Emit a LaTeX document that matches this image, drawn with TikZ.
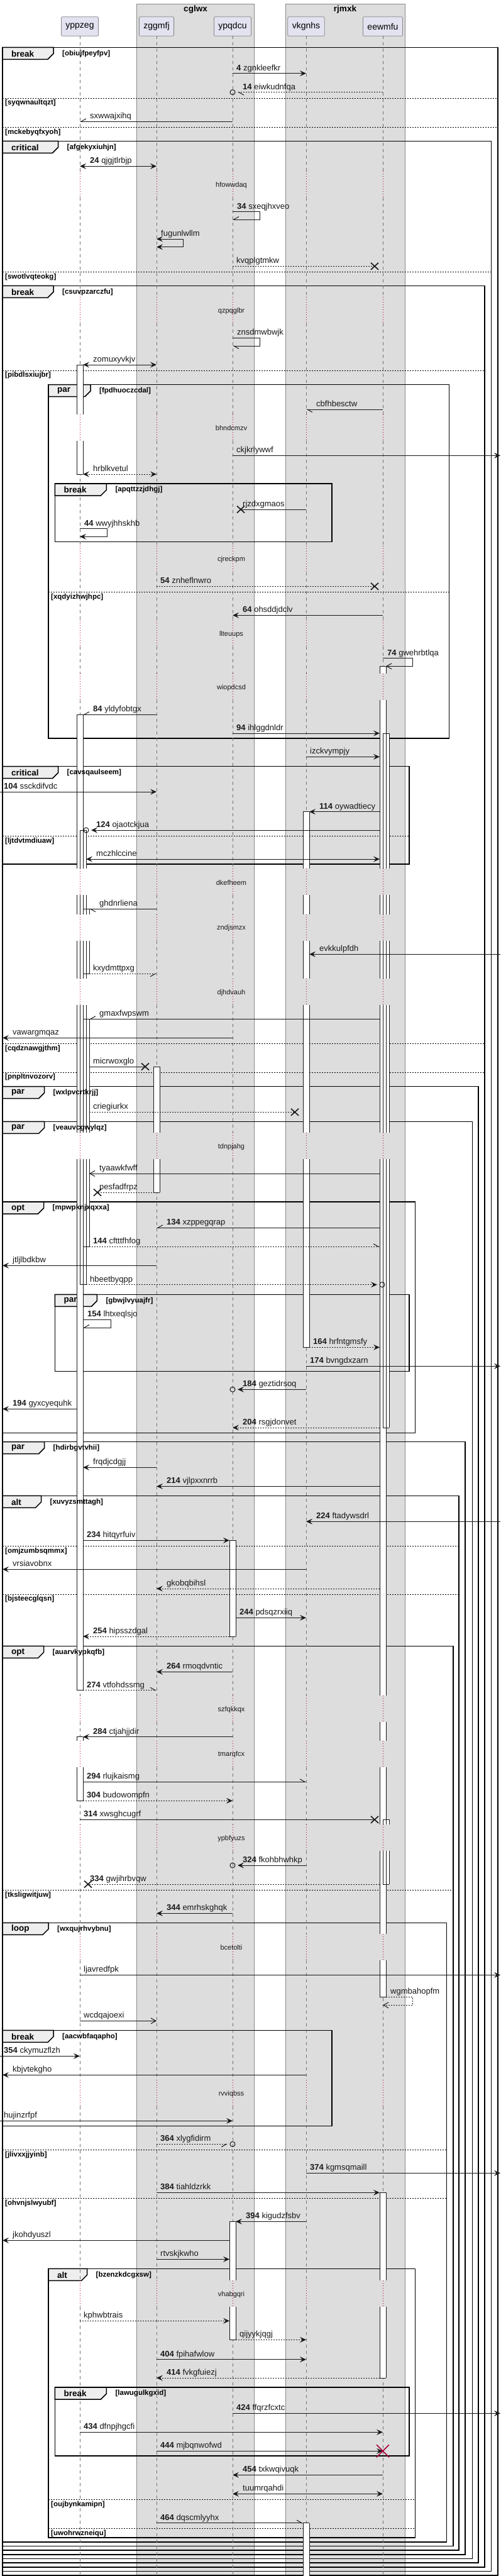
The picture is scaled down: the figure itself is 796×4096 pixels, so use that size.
\documentclass[tikz,border=0pt]{standalone}
\usepackage{fontspec}
\setmainfont{Liberation Sans}
\usetikzlibrary{arrows.meta,calc,positioning}

\definecolor{boxbg}{RGB}{221,221,221}
\definecolor{boxline}{RGB}{136,136,136}
\definecolor{partbg}{RGB}{226,226,240}
\definecolor{tabbg}{RGB}{238,238,238}
\definecolor{delayred}{RGB}{168,0,54}
\definecolor{ink}{RGB}{24,24,24}
\newcounter{lbl}

\tikzset{
  msgline/.style={draw=ink, line width=1pt},
  dashmsg/.style={dash pattern=on 2pt off 2pt},
  tipfill/.style={-{Stealth[length=10pt,width=9pt,inset=4pt]}},
  tipboth/.style={{Stealth[length=10pt,width=9pt,inset=4pt]}-{Stealth[length=10pt,width=9pt,inset=4pt]}},
  tipopen/.style={-{Straight Barb[length=8pt,width=9pt]}},
  tiphalfl/.style={-{Straight Barb[length=8pt,width=9pt,left]}},
  tiphalfr/.style={-{Straight Barb[length=8pt,width=9pt,right]}},
  msglab/.style={anchor=base west, inner sep=0pt, text=ink, font=\fontsize{13}{15}\selectfont},
  crossline/.style={draw=ink, line width=1.6pt},
  life/.style={draw=black!55, line width=0.7pt, dash pattern=on 5pt off 5pt},
  delayline/.style={draw=delayred, line width=0.7pt, dash pattern=on 1pt off 3pt},
  delaylab/.style={inner sep=0pt, text=ink, font=\fontsize{11}{13}\selectfont},
  actline/.style={draw=ink, line width=0.9pt},
  frameline/.style={draw=black, line width=1.5pt},
  tabshape/.style={fill=tabbg, draw=black, line width=1.5pt},
  kwlab/.style={anchor=west, inner sep=0pt, font=\fontsize{13.5}{15}\selectfont\bfseries},
  condlab/.style={anchor=west, inner sep=0pt, font=\fontsize{11.5}{13}\selectfont\bfseries},
  elseline/.style={draw=black, line width=0.8pt, dash pattern=on 2pt off 2pt},
  part/.style={draw=boxline, fill=partbg, rounded corners=2pt, line width=0.8pt,
    minimum height=30.6pt, inner xsep=7pt, font=\fontsize{14}{16}\selectfont},
  boxtitle/.style={inner sep=0pt, font=\fontsize{13.5}{15}\selectfont\bfseries},
}

\begin{document}
\begin{tikzpicture}[x=1pt, y=-1pt]
\newcommand{\seqmsg}[5][]{%
  \pgfmathsetmacro{\lx}{min(#2,#3)+ifthenelse(#3<#2,16,6)}%
  \draw[msgline,tipfill,#1] (#2,#4) -- (#3,#4);
  \stepcounter{lbl}\node[msglab] (m\thelbl) at (\lx,#4-4.5) {#5};}
\newcommand{\seqx}[5][]{%
  \pgfmathsetmacro{\lx}{min(#2,#3)+ifthenelse(#3<#2,16,6)}%
  \pgfmathsetmacro{\xc}{#3+ifthenelse(#3<#2,13,-13)}%
  \draw[msgline,#1] (#2,#4) -- (\xc,#4);
  \draw[crossline] (\xc-6,#4-5.5) -- (\xc+6,#4+5.5) (\xc-6,#4+5.5) -- (\xc+6,#4-5.5);
  \stepcounter{lbl}\node[msglab] (m\thelbl) at (\lx,#4-4.5) {#5};}
\newcommand{\seqo}[5][]{%
  \pgfmathsetmacro{\lx}{min(#2,#3)+ifthenelse(#3<#2,16,6)}%
  \pgfmathsetmacro{\xt}{#3+ifthenelse(#3<#2,8,-8)}%
  \draw[msgline,tipfill,#1] (#2,#4) -- (\xt,#4);
  \draw[msgline] (#3,#4) circle[radius=4];
  \stepcounter{lbl}\node[msglab] (m\thelbl) at (\lx,#4-4.5) {#5};}
\newcommand{\seqself}[7][]{%
  \draw[msgline,tipfill,#1] (#2,#5) -- (#3,#5) -- (#3,#6) -- (#4,#6);
  \stepcounter{lbl}\node[msglab] (m\thelbl) at (#2+7,#5-4.5) {#7};}
\newcommand{\grp}[7]{%
  \draw[frameline] (#1,#2) rectangle (#3,#4);
  \filldraw[tabshape] (#1,#2) -- ++(#5,0) -- ++(0,10) -- ++(-9,9) -- (#1,#2+19) -- cycle;}
\newcommand{\elsebar}[4]{\draw[elseline] (#1,#3) -- (#2,#3);}
\def\delays{294.3,494.3,680.7,890,1008.3,1093.3,1403.3,1475.7,1578.3,1823.3,2718.3,2790,2923.3,3096.7,3329.3,3648.3}

\useasboundingbox (0,0) rectangle (796,4096);
\fill[white] (0,0) rectangle (796,4096);

% boxes and participants
\filldraw[fill=boxbg, draw=boxline, line width=0.6pt] (217.5,6) rectangle (404.6,4100);
\filldraw[fill=boxbg, draw=boxline, line width=0.6pt] (454,6) rectangle (644,4100);
\node[boxtitle] (cglwx) at (311,15) {cglwx};
\node[boxtitle] (rjmxk) at (549,15) {rjmxk};
\node[part] (yppzeg) at (127,42) {yppzeg};
\node[part] (zggmfj) at (249,42) {zggmfj};
\node[part] (ypqdcu) at (370,42) {ypqdcu};
\node[part] (vkgnhs) at (487,42) {vkgnhs};
\node[part] (eewmfu) at (609,42) {eewmfu};

% groups
\newcommand{\grouplist}{%
\grp{4}{75.3}{792}{4095}{81}{break}{obiujfpeyfpv}
\elsebar{4}{792}{156}{syqwnaultqzt}
\elsebar{4}{792}{202.3}{mckebyqfxyoh}
\grp{4}{224.3}{781.5}{4088.3}{88.5}{critical}{afgekyxiuhjn}
\elsebar{4}{781.5}{432.3}{swotlvqteokg}
\grp{4}{454.3}{771}{4081.7}{81}{break}{csuvpzarczfu}
\elsebar{4}{771}{589}{pibdlsxiujbr}
\grp{77}{611.7}{714.6}{1174}{67}{par}{fpdhuoczcdal}
\grp{87.4}{769}{528}{861.7}{82}{break}{apqttzzjdhgj}
\elsebar{77}{714.6}{941.7}{xqdyizhwjhpc}
\grp{4}{1218.7}{651}{1374}{88.5}{critical}{cavsqaulseem}
\elsebar{4}{651}{1329.3}{ljtdvtmdiuaw}
\elsebar{4}{771}{1659.3}{cqdznawgjthm}
\elsebar{4}{771}{1705}{pnpltnvozorv}
\grp{4}{1727.7}{761}{4075}{66.5}{par}{wxlpvcrtkrjj}
\grp{4}{1783.3}{751.7}{4068.3}{66.5}{par}{veauvcgwylqz}
\grp{4}{1911}{660.7}{2278.3}{65.5}{opt}{mpwpknjxqxxa}
\grp{87.4}{2058.3}{651}{2180.3}{67}{par}{gbwjlvyuajfr}
\grp{4}{2292.7}{740}{4061.7}{66.5}{par}{hdirbgvtvhii}
\grp{4}{2378.3}{730}{4055}{61.5}{alt}{xuvyzsmttagh}
\elsebar{4}{730}{2458.3}{omjzumbsqmmx}
\elsebar{4}{730}{2535}{bjsteecglqsn}
\grp{4}{2617.3}{720.8}{4048.3}{65.5}{opt}{auarvkypkqfb}
\elsebar{4}{720.8}{3005.3}{tksligwitjuw}
\grp{4}{3057.3}{710.5}{4041.7}{73}{loop}{wxqujrhvybnu}
\grp{4}{3228.3}{528}{3380.7}{81}{break}{aacwbfaqapho}
\elsebar{4}{710.5}{3418.3}{jlivxxjjyinb}
\elsebar{4}{710.5}{3495.3}{ohvnjslwyubf}
\grp{77}{3607.3}{660.7}{4035}{61.5}{alt}{bzenzkdcgxsw}
\grp{87.4}{3796}{651}{3905}{82}{break}{lawugulkgxid}
\elsebar{77}{660.7}{3974.3}{oujbynkamipn}
\elsebar{77}{660.7}{4020.3}{uwohrwzneiqu}
}
\grouplist

% lifelines, broken at the delays
\foreach \lx in {127,249,370,487,609}
{
  \foreach \d [remember=\d as \pd (initially 37.3)] in \delays
    \draw[life] (\lx,\pd+20) -- (\lx,\d-22);
  \draw[life] (\lx,3668.3) -- (\lx,4100);
  \foreach \d in \delays
    \draw[delayline] (\lx,\d-22) -- (\lx,\d+20);
}
\foreach \d/\t in {294.3/hfowwdaq,494.3/qzpqglbr,680.7/bhndcmzv,890/cjreckpm,1008.3/llteuups,
  1093.3/wiopdcsd,1403.3/dkefheem,1475.7/zndjsmzx,1578.3/djhdvauh,1823.3/tdnpjahg,
  2718.3/szfqkkqx,2790/tmarqfcx,2923.3/ypbfyuzs,3096.7/bcetolti,3329.3/rvviqbss,3648.3/vhabgqri}
  \node[delaylab] (d\t) at (368,\d) {\t};

% activation bars
\newcommand{\barlist}{%
  \actbox{122}{580}{658.7}{1}{0} \actbox{122}{700.7}{754}{0}{1}
  \actbox{122}{1136.3}{1381.3}{1}{0}
  \actbox{127}{1320}{1381.3}{1}{0}
  \actbox{482}{1290.7}{1381.3}{1}{0}
  \actbox{604}{1059.3}{1071.3}{1}{0} \actbox{604}{1113.3}{1381.3}{0}{0}
  \actbox{609}{1166}{1381.3}{1}{0}
  \foreach \bx in {122,127,482,604,609}
  {
    \foreach \ya/\yb in {1423.3/1453.7,1495.7/1556.3,1598.3/1801.3}
      \actbox{\bx}{\ya}{\yb}{0}{0};
  }
  \actbox{122}{1843.3}{2687.7}{0}{1}
  \actbox{127}{1843.3}{2042.7}{0}{1}
  \actbox{132}{1445.3}{1453.7}{1}{0} \actbox{132}{1495.7}{1548.3}{0}{1}
  \actbox{132}{1620.3}{1801.3}{1}{0} \actbox{132}{1843.3}{1982.3}{0}{1}
  \actbox{122}{2761.7}{2768}{1}{0} \actbox{122}{2810}{2863.3}{0}{1}
  \actbox{244}{1696}{1801.3}{1}{0} \actbox{244}{1843.3}{1896}{0}{1}
  \actbox{365}{2449.3}{2602}{1}{1}
  \actbox{365}{3532.3}{3626.3}{1}{0} \actbox{365}{3668.3}{3720.3}{0}{1}
  \actbox{482}{1843.3}{2142.3}{0}{1}
  \actbox{482}{4011.7}{4100}{1}{0}
  \actbox{604}{1843.3}{2696.3}{0}{0} \actbox{604}{2738.3}{2768}{0}{0}
  \actbox{604}{2810}{2901.3}{0}{0} \actbox{604}{2943.3}{3074.7}{0}{0}
  \actbox{604}{3116.7}{3175.3}{0}{1}
  \actbox{609}{1843.3}{2270}{0}{1}
  \actbox{609}{2893.3}{2901.3}{1}{0} \actbox{609}{2943.3}{2996}{0}{1}
  \actbox{604}{3486.3}{3626.3}{1}{0} \actbox{604}{3668.3}{3781}{0}{1}
}
\newcommand{\actbox}[5]{\fill[white] (#1,#2) rectangle (#1+10,#3);}
\barlist
\renewcommand{\actbox}[5]{%
  \draw[actline] (#1,#2) -- (#1,#3) (#1+10,#2) -- (#1+10,#3);
  \ifnum#4=1 \draw[actline] (#1,#2) -- (#1+10,#2);\fi
  \ifnum#5=1 \draw[actline] (#1,#3) -- (#1+10,#3);\fi}
\barlist

% group texts on top of the bars
\renewcommand{\grp}[7]{%
  \stepcounter{lbl}\node[kwlab] (g\thelbl) at (#1+14,#2+10) {#6};
  \node[condlab] (c\thelbl) at (#1+#5+14,#2+10) {[#7]};}
\renewcommand{\elsebar}[4]{%
  \stepcounter{lbl}\node[condlab] (e\thelbl) at (#1+4,#3+8) {[#4]};}
\grouplist

% messages
\seqmsg{370}{487}{116.7}{\textbf{4} zgnkleefkr}
\seqo[dashmsg,tiphalfl]{609}{370}{146.7}{\textbf{14} eiwkudnfqa}
\seqmsg[tiphalfr]{370}{127}{193.3}{sxwwajxihq}
\seqmsg[tipboth]{249}{127}{264.3}{\textbf{24} qjgjtlrbjp}
\seqself[tiphalfr]{370}{413}{370}{336.7}{349}{\textbf{34} sxeqjhxveo}
\seqself[tipboth]{249}{291}{249}{380}{392.7}{fugunlwllm}
\seqx[dashmsg]{370}{609}{423.3}{kvqplgtmkw}
\seqself[tiphalfl]{370}{413}{370}{537.3}{550}{znsdmwbwjk}
\seqmsg[tipboth]{249}{132}{580}{zomuxyvkjv}
\seqmsg[tiphalfl]{609}{487}{651}{cbfhbesctw}
\seqmsg{370}{796}{724.3}{ckjkrlywwf}
\seqmsg[tipboth,dashmsg]{249}{132}{754}{hrblkvetul}
\seqx{487}{370}{810}{rjzdxgmaos}
\seqself{127}{170.7}{127}{840.7}{853.3}{\textbf{44} wwyjhhskhb}
\seqx[dashmsg]{249}{609}{932.3}{\textbf{54} znheflnwro}
\seqmsg{609}{370}{978.3}{\textbf{64} ohsddjdclv}
\seqself[tipopen]{609}{656.5}{614}{1046.7}{1059.3}{\textbf{74} gwehrbtlqa}
\seqmsg[tiphalfr]{249}{132}{1136.3}{\textbf{84} yldyfobtgx}
\seqmsg{370}{604}{1166}{\textbf{94} ihlggdnldr}
\seqmsg{487}{604}{1203.3}{izckvympjy}
\seqmsg{0}{249}{1259}{\textbf{104} ssckdifvdc}
\seqmsg{604}{492}{1290.7}{\textbf{114} oywadtiecy}
\seqo{604}{137}{1320}{\textbf{124} ojaotckjua}
\seqmsg[tipboth]{604}{137}{1366}{mczhlccine}
\seqmsg[tiphalfl]{249}{142}{1445.3}{ghdnrliena}
\seqmsg{796}{492}{1517.3}{evkkulpfdh}
\seqmsg[dashmsg,tiphalfr]{142}{249}{1548.3}{kxydmttpxg}
\seqmsg[tiphalfr]{604}{142}{1620.3}{gmaxfwpswm}
\seqmsg{370}{4}{1650.3}{vawargmqaz}
\seqx{142}{244}{1696}{micrwoxglo}
\seqx[dashmsg]{142}{482}{1768.3}{criegiurkx}
\seqmsg[tipopen]{604}{142}{1866}{tyaawkfwff}
\seqx[dashmsg]{254}{142}{1896}{pesfadfrpz}
\seqmsg[tiphalfr]{604}{249}{1952.3}{\textbf{134} xzppegqrap}
\seqmsg[dashmsg,tiphalfl]{142}{604}{1982.3}{\textbf{144} cftttfhfog}
\seqmsg{249}{4}{2012.3}{jtljlbdkbw}
\seqo[dashmsg]{137}{608}{2042.7}{hbeetbyqpp}
\seqself[tiphalfr]{132}{176}{132}{2098.3}{2111}{\textbf{154} lhtxeqlsjo}
\seqmsg[dashmsg]{492}{604}{2142.3}{\textbf{164} hrfntgmsfy}
\seqmsg{487}{796}{2172.3}{\textbf{174} bvngdxzarn}
\seqo{487}{370}{2209.3}{\textbf{184} geztidrsoq}
\seqmsg{122}{4}{2240.3}{\textbf{194} gyxcyequhk}
\seqmsg[dashmsg]{604}{370}{2270}{\textbf{204} rsgjdonvet}
\seqmsg{249}{132}{2333.3}{frqdjcdgjj}
\seqmsg{604}{249}{2363.3}{\textbf{214} vjlpxxnrrb}
\seqmsg{796}{487}{2419.3}{\textbf{224} ftadywsdrl}
\seqmsg{132}{365}{2449.3}{\textbf{234} hitqyrfuiv}
\seqmsg{487}{4}{2495.3}{vrsiavobnx}
\seqmsg[dashmsg]{604}{249}{2526}{gkobqbihsl}
\seqmsg{375}{487}{2572.3}{\textbf{244} pdsqzrxiiq}
\seqmsg[dashmsg]{365}{132}{2602}{\textbf{254} hipsszdgal}
\seqmsg{370}{249}{2658.3}{\textbf{264} rmoqdvntic}
\seqmsg[dashmsg,tiphalfl]{132}{249}{2687.7}{\textbf{274} vtfohdssmg}
\seqmsg{370}{132}{2761.7}{\textbf{284} ctjahjjdir}
\seqmsg[tiphalfl]{132}{487}{2833.3}{\textbf{294} rlujkaismg}
\seqmsg[dashmsg]{132}{370}{2863.3}{\textbf{304} budowompfn}
\seqx{127}{609}{2893.3}{\textbf{314} xwsghcugrf}
\seqo{487}{370}{2966}{\textbf{324} fkohbhwhkp}
\seqx[dashmsg]{604}{127}{2996}{\textbf{334} gwjihrbvqw}
\seqmsg{370}{249}{3042.3}{\textbf{344} emrhskghqk}
\seqmsg{127}{796}{3140.3}{ljavredfpk}
\seqself[dashmsg,tipopen]{614}{656.5}{609}{3175.3}{3188.3}{wgmbahopfm}
\seqmsg[tipopen]{127}{249}{3213.3}{wcdqajoexi}
\seqmsg{0}{127}{3269.3}{\textbf{354} ckymuzflzh}
\seqmsg{487}{4}{3299.3}{kbjvtekgho}
\seqmsg{0}{370}{3372.3}{hujinzrfpf}
\seqo[dashmsg,tiphalfr]{249}{370}{3409.3}{\textbf{364} xlygfidirm}
\seqmsg{487}{796}{3455.3}{\textbf{374} kgmsqmaill}
\seqmsg{249}{604}{3486.3}{\textbf{384} tiahldzrkk}
\seqmsg{487}{375}{3532.3}{\textbf{394} kigudzfsbv}
\seqmsg{365}{4}{3562.3}{jkohdyuszl}
\seqmsg{249}{365}{3592.3}{rtvskjkwho}
\seqmsg[dashmsg]{127}{365}{3690.3}{kphwbtrais}
\seqmsg[dashmsg]{375}{487}{3720.3}{qijyykjqgj}
\seqmsg{249}{487}{3751.7}{\textbf{404} fpihafwlow}
\seqmsg[dashmsg]{604}{249}{3781}{\textbf{414} fvkgfuiezj}
\seqmsg{370}{796}{3837.3}{\textbf{424} ffqrzfcxtc}
\seqmsg{127}{609}{3867.3}{\textbf{434} dfnpjhgcfi}
\seqmsg{249}{609}{3897.3}{\textbf{444} mjbqnwofwd}
\draw[draw=delayred, line width=1.6pt] (599,3887.3) -- (619,3907.3) (599,3907.3) -- (619,3887.3);
\seqmsg{609}{370}{3935.3}{\textbf{454} txkwqivuqk}
\seqmsg[tipboth]{609}{370}{3965.3}{tuumrqahdi}
\seqmsg[tiphalfl]{249}{482}{4011.7}{\textbf{464} dqscmlyyhx}
\end{tikzpicture}
\end{document}
